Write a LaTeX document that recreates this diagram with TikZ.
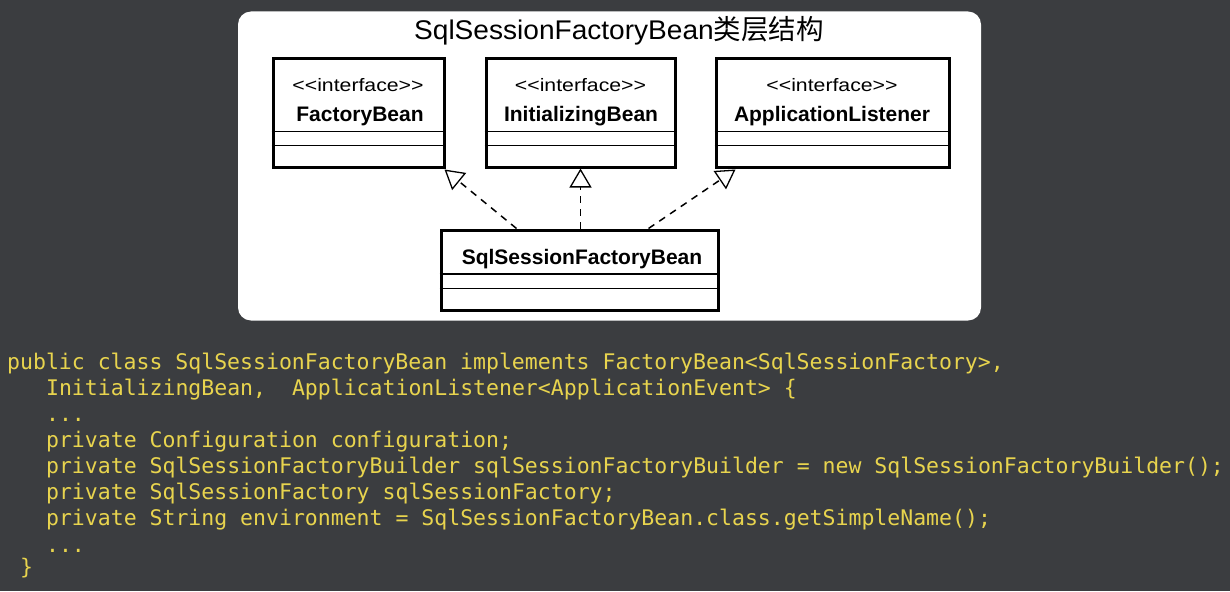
\documentclass[tikz,border=0pt]{standalone}
\usepackage{fontspec}
\setmainfont{Liberation Sans}
\newfontfamily\cjk{Noto Sans CJK SC}
\setmonofont{DejaVu Sans Mono}
\usetikzlibrary{arrows.meta,calc}
\definecolor{bg}{RGB}{59,61,64}
\definecolor{codeyellow}{RGB}{232,212,78}
\newcommand{\stereotxt}{\scalebox{1.18}[1]{<\kern0pt<interface>\kern0pt>}}
\begin{document}
\begin{tikzpicture}[x=1pt,y=-1pt,
  umlbox/.style={draw=black, line width=3pt, fill=white, inner sep=0pt},
  divider/.style={draw=black, line width=1.3pt},
  stereo/.style={font=\fontsize{18}{20}\selectfont, anchor=base, inner sep=0pt},
  cname/.style={font=\bfseries\fontsize{21}{24}\selectfont, anchor=base, inner sep=0pt},
  realize/.style={draw=black, line width=1.5pt, dash pattern=on 7pt off 6pt,
    -{Triangle[fill=white, length=19pt, width=22pt, line width=1.3pt]}},
  codeline/.style={font=\ttfamily\fontsize{21.5}{26}\selectfont, text=codeyellow, anchor=base west, inner sep=0pt}]
\useasboundingbox (0,0) rectangle (1230,591);
\fill[bg] (0,0) rectangle (1230,591);
% panel
\node[fill=white, rounded corners=13pt, minimum width=743, minimum height=309, inner sep=0pt] (panel) at (609.5,166) {};
\node[anchor=base, inner sep=0pt, font=\fontsize{27}{30}\selectfont] (title) at (619,39.5) {\scalebox{1.04}[1]{SqlSessionFactoryBean}{\cjk\fontsize{27.5}{30}\selectfont 类层结构}};
% interface boxes
\node[umlbox, minimum width=171, minimum height=108] (fb) at (358.5,113) {};
\node[umlbox, minimum width=189, minimum height=108] (ib) at (580.5,113) {};
\node[umlbox, minimum width=233, minimum height=108] (al) at (832.5,113) {};
\foreach \b in {fb,ib,al}{
  \draw[divider] ($(\b.north west)+(0,74)$) -- ($(\b.north east)+(0,74)$);
  \draw[divider] ($(\b.north west)+(0,88)$) -- ($(\b.north east)+(0,88)$);
}
\node[stereo] (fbs) at (358,91.5) {\stereotxt};
\node[cname] (fbn) at (360,121.5) {FactoryBean};
\node[stereo] (ibs) at (580.5,91.5) {\stereotxt};
\node[cname] (ibn) at (581,121.5) {InitializingBean};
\node[stereo] (als) at (832,91.5) {\stereotxt};
\node[cname] (aln) at (832,121.5) {ApplicationListener};
% implementing class
\node[umlbox, minimum width=277, minimum height=80] (sb) at (579.5,270) {};
\draw[divider] ($(sb.north west)+(0,45.5)$) -- ($(sb.north east)+(0,45.5)$);
\draw[divider] ($(sb.north west)+(0,60)$) -- ($(sb.north east)+(0,60)$);
\node[cname] (sbn) at (582,264) {SqlSessionFactoryBean};
% realization arrows
\draw[realize] ($(sb.north west)+(77,0)$) -- ($(fb.south east)+(-1,1)$);
\draw[realize] (ib.south |- sb.north) -- (ib.south);
\draw[realize] ($(sb.north east)+(-71,0)$) -- ($(al.south west)+(21,1)$);
% code
\node[codeline] (c1) at (7,369) {public class SqlSessionFactoryBean implements FactoryBean<SqlSessionFactory>,};
\node[codeline] (c2) at (45.9,395) {InitializingBean,\ \ ApplicationListener<ApplicationEvent> \{};
\node[codeline] (c3) at (45.9,421) {...};
\node[codeline] (c4) at (45.9,447) {private Configuration configuration;};
\node[codeline] (c5) at (45.9,473) {private SqlSessionFactoryBuilder sqlSessionFactoryBuilder = new SqlSessionFactoryBuilder();};
\node[codeline] (c6) at (45.9,499) {private SqlSessionFactory sqlSessionFactory;};
\node[codeline] (c7) at (45.9,525) {private String environment = SqlSessionFactoryBean.class.getSimpleName();};
\node[codeline] (c8) at (45.9,552) {...};
\node[codeline] (c9) at (20,574) {\}};
\end{tikzpicture}
\end{document}
